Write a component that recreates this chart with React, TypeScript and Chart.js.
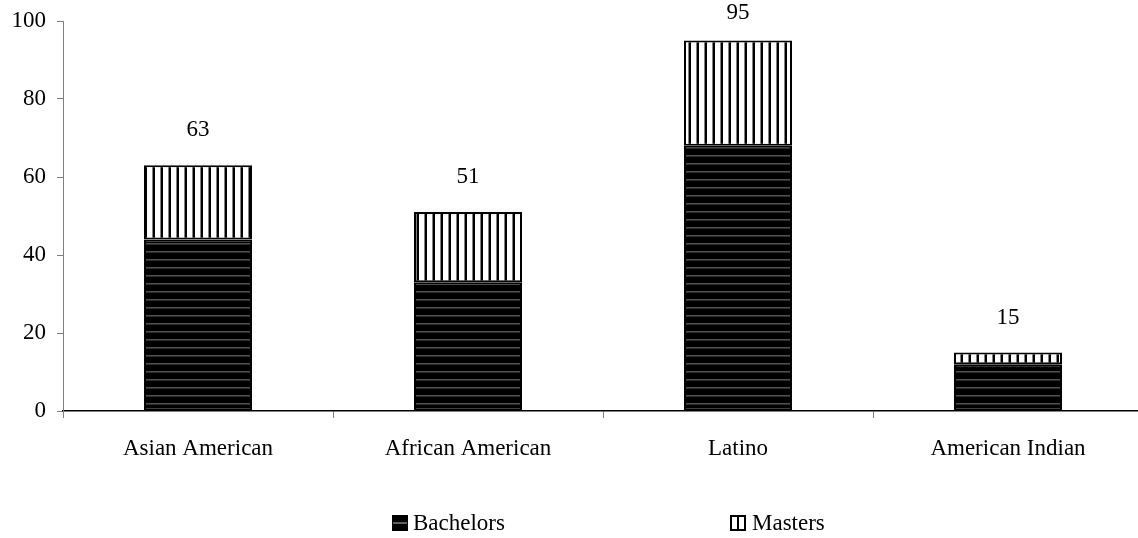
import React, { useEffect, useRef } from "react";
import { Chart, registerables } from "chart.js";
Chart.register(...registerables);

const categories = ["Asian American", "African American", "Latino", "American Indian"];
const bachelors = [44, 33, 68, 12];
const masters = [19, 18, 27, 3];
const seriesNames = ["Bachelors", "Masters"];
const yMin = 0;
const yMax = 100;
const yStep = 20;

const FONT = "'Liberation Serif', 'Times New Roman', serif";
const FS = 23;

function makeHPattern(ctx: CanvasRenderingContext2D) {
  const c = document.createElement("canvas");
  c.width = 8;
  c.height = 8;
  const g = c.getContext("2d")!;
  g.fillStyle = "#000";
  g.fillRect(0, 0, 8, 8);
  g.fillStyle = "#505050";
  g.fillRect(0, 3, 8, 1);
  g.fillStyle = "#2a2a2a";
  g.fillRect(0, 4, 8, 1);
  return ctx.createPattern(c, "repeat")!;
}

function makeVPattern(ctx: CanvasRenderingContext2D) {
  const c = document.createElement("canvas");
  c.width = 8;
  c.height = 8;
  const g = c.getContext("2d")!;
  g.fillStyle = "#fff";
  g.fillRect(0, 0, 8, 8);
  g.fillStyle = "#808080";
  g.fillRect(0, 0, 1, 8);
  g.fillStyle = "#000";
  g.fillRect(1, 0, 2, 8);
  return ctx.createPattern(c, "repeat")!;
}

const totalsPlugin = {
  id: "totals",
  afterDatasetsDraw(chart: any) {
    const ctx = chart.ctx;
    const meta = chart.getDatasetMeta(chart.data.datasets.length - 1);
    ctx.save();
    ctx.font = `${FS}px ${FONT}`;
    ctx.fillStyle = "#000";
    ctx.textAlign = "center";
    ctx.textBaseline = "middle";
    categories.forEach((_, i) => {
      const el = meta.data[i];
      const total = bachelors[i] + masters[i];
      const y = Math.max(13, el.y - 35);
      ctx.fillText(String(total), el.x, y);
    });
    ctx.restore();
  },
};

const legendPlugin = {
  id: "customLegend",
  afterDraw(chart: any) {
    const ctx = chart.ctx;
    const ca = chart.chartArea;
    const cx = (ca.left + ca.right) / 2;
    const y = 515;
    const size = 16;
    ctx.save();
    const x1 = cx - 211;
    ctx.fillStyle = "#000";
    ctx.fillRect(x1, y, size, size);
    ctx.fillStyle = "#606060";
    ctx.fillRect(x1 + 1, y + 7, size - 2, 2);
    const x2 = cx + 127;
    ctx.fillStyle = "#fff";
    ctx.fillRect(x2, y, size, size);
    ctx.strokeStyle = "#000";
    ctx.lineWidth = 2;
    ctx.strokeRect(x2 + 1, y + 1, size - 2, size - 2);
    ctx.fillStyle = "#000";
    ctx.fillRect(x2 + 7, y, 2, size);
    ctx.font = `${FS}px ${FONT}`;
    ctx.textAlign = "left";
    ctx.textBaseline = "middle";
    ctx.fillText(seriesNames[0], x1 + size + 5, y + size / 2 + 1);
    ctx.fillText(seriesNames[1], x2 + size + 6, y + size / 2 + 1);
    ctx.restore();
  },
};

export default function App() {
  const ref = useRef<HTMLCanvasElement>(null);
  useEffect(() => {
    const canvas = ref.current!;
    const ctx = canvas.getContext("2d")!;
    const chart = new Chart(canvas, {
      type: "bar",
      data: {
        labels: categories,
        datasets: [
          {
            label: seriesNames[0],
            data: bachelors,
            backgroundColor: makeHPattern(ctx),
            borderColor: "#000",
            borderWidth: 2,
            borderSkipped: false,
          },
          {
            label: seriesNames[1],
            data: masters,
            backgroundColor: makeVPattern(ctx),
            borderColor: "#000",
            borderWidth: 2,
            borderSkipped: false,
          },
        ],
      },
      options: {
        responsive: false,
        animation: false,
        devicePixelRatio: 1,
        layout: { padding: { top: 21, right: 7, left: 0, bottom: 0 } },
        datasets: { bar: { categoryPercentage: 1, barPercentage: 0.4 } },
        plugins: { legend: { display: false }, tooltip: { enabled: false } },
        scales: {
          x: {
            stacked: true,
            afterFit: (s: any) => {
              s.height = 127;
            },
            grid: {
              drawOnChartArea: false,
              drawTicks: true,
              tickLength: 7,
              color: "#808080",
              offset: true,
            },
            border: { color: "#000", width: 1.5 },
            ticks: { color: "#000", font: { family: FONT, size: FS }, padding: 17, maxRotation: 0 },
          },
          y: {
            stacked: true,
            min: yMin,
            max: yMax,
            afterFit: (s: any) => {
              s.width = 63;
              s.paddingTop = 0;
              s.paddingBottom = 0;
            },
            grid: { drawOnChartArea: false, drawTicks: true, tickLength: 6, color: "#808080" },
            border: { color: "#808080", width: 1 },
            ticks: { stepSize: yStep, color: "#000", font: { family: FONT, size: FS, lineHeight: 1 }, padding: 11 },
          },
        },
      },
      plugins: [totalsPlugin, legendPlugin],
    });
    return () => chart.destroy();
  }, []);
  return (
    <div style={{ position: "fixed", left: 0, top: 0, width: 1138, height: 538, overflow: "hidden", background: "#fff" }}>
      <canvas ref={ref} width={1150} height={538} style={{ width: 1150, height: 538, display: "block" }} />
    </div>
  );
}
